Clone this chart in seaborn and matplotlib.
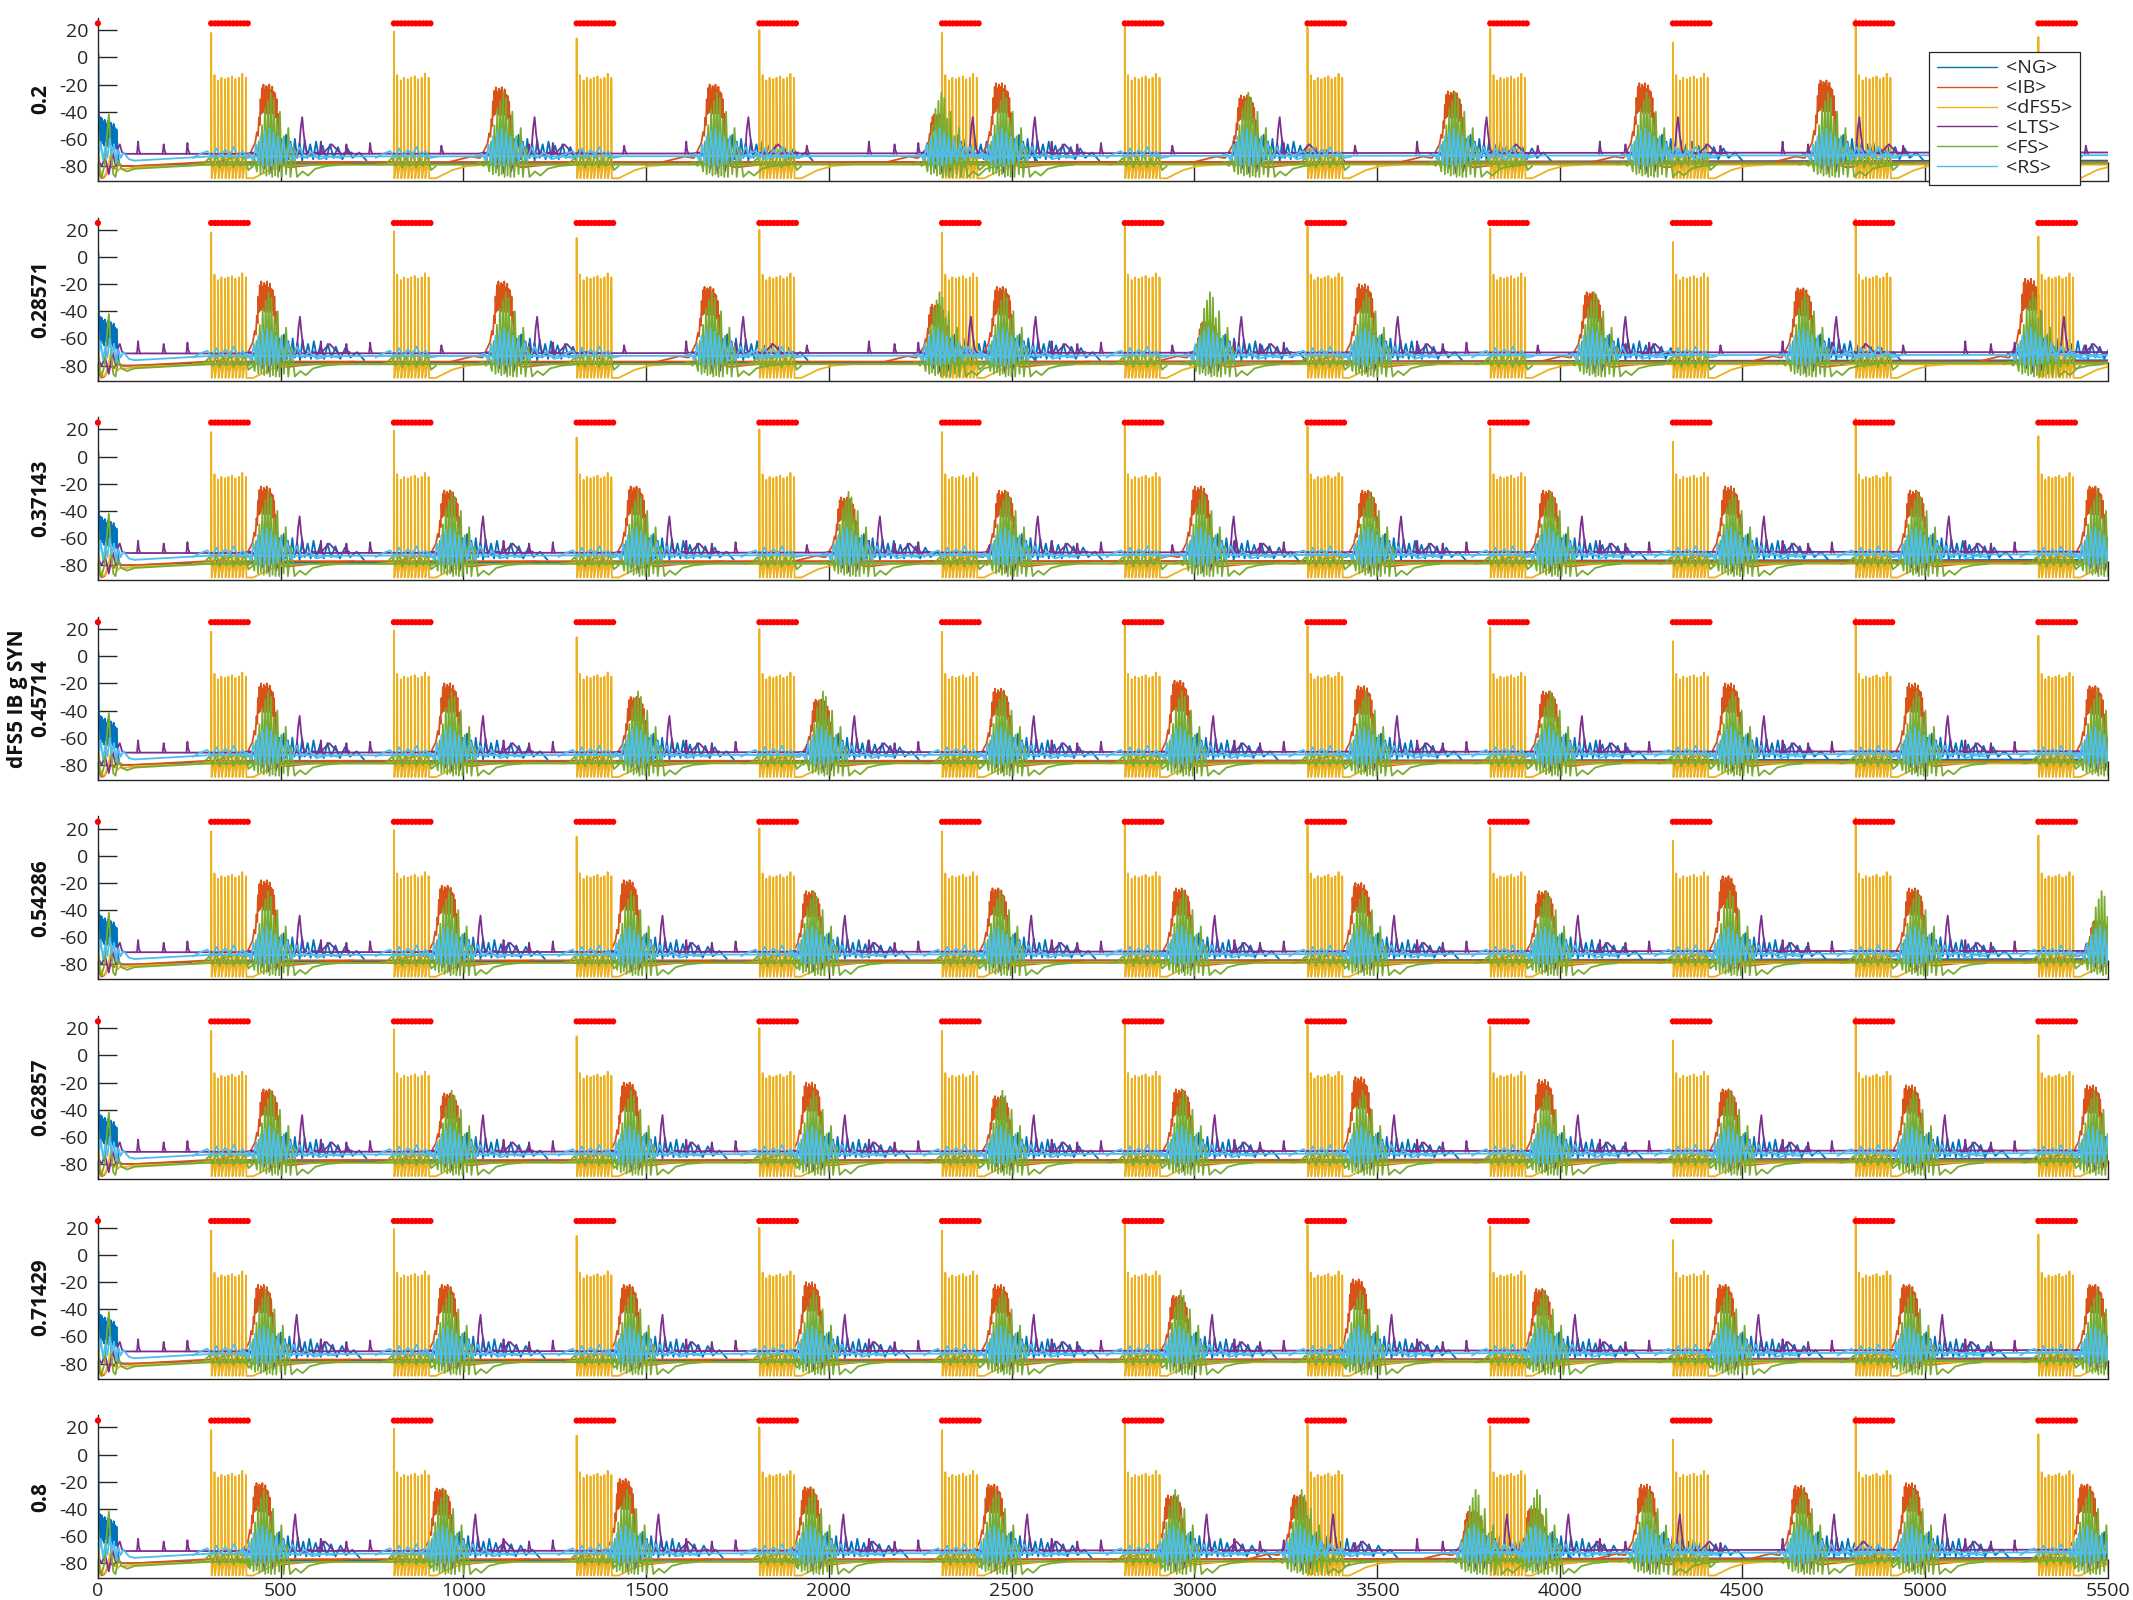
import numpy as np
import pandas as pd
import seaborn as sns
import matplotlib.pyplot as plt
from matplotlib.lines import Line2D

# ---------------- data ----------------
g_syn = ["0.2", "0.28571", "0.37143", "dFS5 IB g SYN\n0.45714",
         "0.54286", "0.62857", "0.71429", "0.8"]
cells = ["<NG>", "<IB>", "<dFS5>", "<LTS>", "<FS>", "<RS>"]
colors = ["#0072BD", "#D95319", "#EDB120", "#7E2F8E", "#77AC30", "#4DBEEE"]

# stimulus trains (ms) and pulse markers
train_starts = [300, 800, 1300, 1800, 2300, 2800, 3300, 3800, 4300, 4800, 5300]
dot_offsets = [10, 20, 30, 40, 50, 60, 70, 80, 90, 100, 110]
spike_offsets = [10, 19, 29, 38, 48, 57, 67, 76, 86, 95, 105]
first_spike = [18, 19, 14, 20, 18, 24, 22, 21, 11, 28, 15]
other_spikes = [-13, -17, -15, -16, -15, -14, -16, -15, -12, -15]

# IB burst times (ms) and peak voltage (mV), one row per panel
ib_times = [
    [465, 1101, 1686, 2300, 2470, 3140, 3706, 4230, 4726],
    [459, 1108, 1672, 2295, 2472, 3035, 3463, 4086, 4663, 5286],
    [458, 960, 1470, 2046, 2478, 3014, 3472, 3967, 4465, 4971, 5462],
    [458, 960, 1470, 1976, 2467, 2958, 3461, 3967, 4465, 4968, 5462],
    [458, 953, 1451, 1950, 2460, 2962, 3453, 3956, 4458, 4968, 5475],
    [465, 960, 1451, 1950, 2467, 2962, 3453, 3956, 4458, 4960, 5455],
    [450, 953, 1451, 1950, 2467, 2955, 3446, 3948, 4450, 4953, 5462],
    [446, 939, 1440, 1946, 2449, 2940, 3286, 3762, 3930, 4235, 4657, 4960, 5440],
]
ib_peaks = [
    [-20, -22, -20, -42, -19, -28, -25, -19, -17],
    [-18, -18, -22, -35, -22, -48, -20, -26, -23, -16],
    [-22, -25, -22, -30, -25, -22, -25, -25, -22, -25, -22],
    [-20, -20, -30, -32, -24, -18, -22, -26, -20, -20, -22],
    [-18, -22, -18, -26, -24, -24, -20, -26, -15, -24, -48],
    [-25, -28, -20, -20, -30, -25, -16, -18, -25, -22, -22],
    [-22, -22, -22, -20, -22, -30, -18, -25, -22, -22, -22],
    [-21, -25, -18, -24, -22, -30, -30, -42, -40, -22, -23, -21, -22],
]

# IB burst shape: offset from burst time, fraction of the way from -74 to peak
ib_off = [-55, -45, -35, -30, -27, -24, -22, -20, -18, -16, -14, -12, -10, -8, -6, -4,
          -2, 0, 2, 4, 6, 8, 10, 12, 14, 16, 18, 20, 22, 24, 26, 28, 30, 33, 38]
ib_frac = [0.0, 0.1, 0.2, 0.35, 0.3, 0.55, 0.45, 0.8, 0.6, 0.95, 0.62, 1.0, 0.65, 0.93,
           0.62, 0.98, 0.6, 0.95, 0.63, 1.0, 0.6, 0.92, 0.62, 0.97, 0.6, 0.9, 0.62, 0.88,
           0.55, 0.8, 0.45, 0.6, 0.3, 0.1, 0.0]
ib_pre_off = [-140, -110, -80, -60]
ib_pre_v = [-77, -75, -73, -74]
ib_tail_off = [45, 60, 90, 130, 180, 240]
ib_tail_v = [-80, -81, -80, -79, -78, -77]

# other cells around each IB burst (offset ms, mV)
fs_off = [-70, -55, -45, -38, -30, -25, -20, -16, -12, -8, -4, 0, 4, 8, 12, 16, 20, 24,
          28, 33, 38, 44, 50, 56, 62, 70, 80, 95, 110, 130, 160, 200]
fs_v = [-79, -77, -80, -72, -84, -62, -86, -50, -85, -38, -87, -32, -86, -26, -88, -30,
        -87, -45, -88, -40, -88, -58, -86, -52, -88, -66, -88, -84, -87, -82, -80, -79]
rs_off = [-70, -50, -40, -32, -26, -20, -14, -8, -2, 4, 10, 16, 22, 28, 34, 42, 50, 60,
          72, 86, 100, 120, 140, 170, 200]
rs_v = [-73, -71, -76, -64, -78, -58, -80, -54, -79, -52, -80, -55, -79, -58, -78, -60,
        -77, -63, -76, -66, -74, -70, -75, -73, -74]
ng_off = [-10, 0, 8, 14, 20, 26, 32, 38, 44, 50, 56, 62, 68, 74, 80, 87, 94, 101, 108,
          116, 124, 132, 140, 150, 160, 170, 180, 192, 204, 218, 232, 250, 270]
ng_v = [-76, -70, -80, -58, -78, -56, -76, -60, -77, -57, -75, -62, -76, -60, -74, -63,
        -76, -61, -74, -64, -75, -62, -74, -65, -75, -64, -74, -66, -75, -67, -74, -70, -76]
lts_off = [-60, -40, -20, -10, 0, 10, 20, 30, 40, 50, 60, 75, 85, 90, 94, 98, 104, 115,
           130, 150, 175, 200, 230]
lts_v = [-71, -70, -75, -82, -66, -85, -70, -84, -68, -78, -64, -72, -70, -52, -44, -56,
         -68, -72, -70, -71, -64, -71, -70]

# activity during each stimulus train (offset from train start)
fs_train_off = [-30, -10, 5, 14, 24, 33, 43, 52, 62, 71, 81, 90, 100, 112, 125]
fs_train_v = [-79, -78, -74, -80, -72, -81, -73, -80, -70, -81, -74, -80, -72, -83, -80]
rs_train_off = [-40, -20, 0, 12, 24, 36, 48, 60, 72, 84, 96, 110, 130]
rs_train_v = [-74, -71, -69, -74, -67, -73, -68, -72, -66, -73, -69, -74, -73]
lts_bump_off = [-190, -120, -55, 140]
lts_bump_v = [-62, -64, -63, -65]

# opening transient (same in every panel)
ng_init_t = [0, 1, 3, 5, 7, 9, 11, 13, 15, 17, 19, 21, 23, 25, 27, 29, 31, 33, 35, 37,
             39, 41, 43, 45, 47, 49, 51, 54, 58, 64, 75, 100]
ng_init_v = [-62, 3, -46, -62, -44, -64, -45, -63, -47, -65, -46, -62, -49, -64, -47,
             -66, -50, -63, -48, -64, -51, -66, -49, -63, -52, -67, -53, -70, -78, -80, -80, -80]
ib_init_t = [0, 4, 10, 18, 26, 34, 44, 56, 70, 100]
ib_init_v = [-70, -86, -89, -88, -84, -80, -82, -79, -80, -80]
dfs_init_t = [0, 5, 12, 20, 28, 36, 44, 52, 60, 80, 100]
dfs_init_v = [-50, -82, -88, -87, -80, -70, -76, -84, -82, -82, -81]
lts_init_t = [0, 10, 20, 30, 40, 50, 56, 60, 66, 75, 100]
lts_init_v = [-75, -80, -74, -86, -70, -80, -66, -64, -70, -71, -71]
fs_init_t = [0, 5, 10, 18, 24, 30, 36, 42, 48, 56, 64, 80, 100]
fs_init_v = [-65, -85, -88, -80, -60, -42, -70, -86, -88, -76, -82, -84, -82]
rs_init_t = [0, 4, 8, 14, 20, 26, 32, 38, 44, 50, 56, 62, 70, 85, 100]
rs_init_v = [-58, -70, -62, -76, -66, -74, -60, -72, -64, -78, -68, -74, -70, -75, -76]

# resting levels
base_t = [100, 300, 5500]
ng_base = [-80, -78, -76]
ib_base = [-80, -77, -77]
dfs_base = [-81, -79, -79]
lts_base = [-71, -71, -70]
fs_base = [-82, -79, -78]
rs_base = [-76, -73, -72]

# ---------------- style ----------------
sns.set_theme(style="white")
plt.rcParams["font.family"] = ["Open Sans", "DejaVu Sans"]
plt.rcParams["axes.unicode_minus"] = False
palette = dict(zip(cells, colors))


def build_panel(p):
    segs = []

    def seg(cell, ts, vs):
        segs.append(pd.DataFrame({"t": ts, "v": vs, "cell": cell, "seg": len(segs)}))

    # resting levels and opening transient
    for cell, b in zip(cells, [ng_base, ib_base, dfs_base, lts_base, fs_base, rs_base]):
        seg(cell, base_t, b)
    seg("<NG>", ng_init_t, ng_init_v)
    seg("<IB>", ib_init_t, ib_init_v)
    seg("<dFS5>", dfs_init_t, dfs_init_v)
    seg("<LTS>", lts_init_t, lts_init_v)
    seg("<FS>", fs_init_t, fs_init_v)
    seg("<RS>", rs_init_t, rs_init_v)

    # stimulus trains
    for k, T in enumerate(train_starts):
        ts, vs = [T - 40, T + 8], [-79, -78]
        for j, o in enumerate(spike_offsets):
            s = T + o
            h = first_spike[k] if j == 0 else other_spikes[j - 1]
            ts += [s - 0.3, s, s + 1.2]
            vs += [-78, h, -89]
            if j < len(spike_offsets) - 1:
                ts += [s + 4, s + 8]
                vs += [-84, -78]
        ts += [T + 125, T + 140, T + 170, T + 210, T + 260]
        vs += [-89, -87, -83, -80, -79]
        seg("<dFS5>", ts, vs)
        seg("<FS>", [T + o for o in fs_train_off], fs_train_v)
        seg("<RS>", [T + o for o in rs_train_off], rs_train_v)
        for o, v in zip(lts_bump_off, lts_bump_v):
            seg("<LTS>", [T + o - 3, T + o, T + o + 2, T + o + 6], [-71, v, -68, -71])

    # IB bursts and the network response around them
    for c, pk in zip(ib_times[p], ib_peaks[p]):
        ts = [c + o for o in ib_pre_off] + [c + o for o in ib_off] + [c + o for o in ib_tail_off]
        vs = ib_pre_v + [-74 + f * (pk + 74) for f in ib_frac] + ib_tail_v
        seg("<IB>", ts, vs)
        seg("<NG>", [c + o for o in ng_off], ng_v)
        seg("<LTS>", [c + o for o in lts_off], lts_v)
        seg("<FS>", [c + o for o in fs_off], fs_v)
        seg("<RS>", [c + o for o in rs_off], rs_v)
    return pd.concat(segs, ignore_index=True)


fig = plt.figure(figsize=(21.33, 16), dpi=100)
dots_t = [0] + [T + o for T in train_starts for o in dot_offsets]

for i in range(8):
    bottom_px = 181 + 199.6 * i
    ax = fig.add_axes([0.0459, 1 - bottom_px / 1600, 0.9423, 0.1019])
    df = build_panel(i)
    sns.lineplot(data=df, x="t", y="v", hue="cell", hue_order=cells, palette=palette,
                 units="seg", estimator=None, sort=False, linewidth=1.3, legend=False, ax=ax)
    sns.scatterplot(x=dots_t, y=[25] * len(dots_t), color="#FF0000", s=20,
                    edgecolor="none", ax=ax, clip_on=False, zorder=5)

    ax.set_xlim(0, 5500)
    ax.set_ylim(-91, 29)
    ax.set_xticks(range(0, 5501, 500))
    ax.set_yticks([-80, -60, -40, -20, 0, 20])
    ax.tick_params(bottom=True, left=True, direction="in", length=14, width=1.0,
                   color="#262626", labelcolor="#262626", labelsize=14)
    ax.tick_params(axis="y", pad=7)
    ax.tick_params(axis="x", pad=3)
    if i < 7:
        ax.set_xticklabels([])
    ax.set_xlabel("")
    ax.set_ylabel(g_syn[i], fontsize=15, fontweight="bold", color="#111111",
                  linespacing=1.1)
    ax.yaxis.set_label_coords(-0.0234, 0.5)
    sns.despine(ax=ax)
    for sp in ["left", "bottom"]:
        ax.spines[sp].set_color("#262626")
        ax.spines[sp].set_linewidth(1.0)

    if i == 0:
        handles = [Line2D([0], [0], color=c, lw=1.0) for c in colors]
        leg = ax.legend(handles, cells, loc="upper right", bbox_to_anchor=(0.991, 0.853),
                        fontsize=14, frameon=True, fancybox=False, framealpha=1,
                        edgecolor="#262626", handlelength=3.1, handletextpad=0.45,
                        labelspacing=0.1, borderpad=0.4)
        leg.get_frame().set_linewidth(0.9)
        leg.set_zorder(10)

fig.savefig("out.png", dpi=100)
